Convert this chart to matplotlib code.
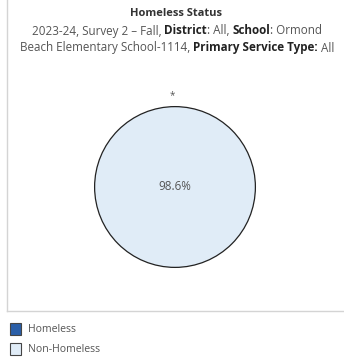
import matplotlib
matplotlib.use("Agg")
import matplotlib.pyplot as plt
from matplotlib.lines import Line2D
from matplotlib.patches import Rectangle, Circle

# ---- data ----
categories = ["Homeless", "Non-Homeless"]
values = [0.0, 98.6]          # Homeless value suppressed ("*") in the source
slice_labels = ["*", ""]
center_label = "98.6%"
colors = ["#2b5fa8", "#e0ecf7"]

title = "Homeless Status"
subtitle_lines = [
    [("2023-24, Survey 2 \u2013 Fall, ", False), ("District", True), (": All, ", False),
     ("School", True), (": Ormond", False)],
    [("Beach Elementary School-1114, ", False), ("Primary Service Type:", True), (" All", False)],
]

W, H = 344, 360
plt.rcParams['font.family'] = ['Open Sans', 'DejaVu Sans']
fig = plt.figure(figsize=(W / 100, H / 100), dpi=100)
fig.patch.set_facecolor("white")

def fx(x):
    return x / W

def fy(y):
    return 1 - y / H

TXT = "#555555"
FS = 8.4

# frame
fig.add_artist(Line2D([fx(6.5), fx(6.5)], [fy(0), fy(311)], color="#d4d4d4", lw=1))
fig.add_artist(Line2D([fx(6.5), fx(344)], [fy(311), fy(311)], color="#d4d4d4", lw=1))

# title
fig.text(fx(176), fy(14), title, ha="center", va="center", fontsize=8.0,
         fontweight="bold", color="#333333")

renderer = fig.canvas.get_renderer()
for i, parts in enumerate(subtitle_lines):
    y = fy(31 + 17 * i)
    texts = []
    for s, b in parts:
        t = fig.text(0, y, s, ha="left", va="center", fontsize=FS,
                     fontweight="bold" if b else "normal",
                     color="#222222" if b else TXT)
        texts.append(t)
    widths = [t.get_window_extent(renderer).width for t in texts]
    total = sum(widths)
    x = 177 - total / 2
    for t, w in zip(texts, widths):
        t.set_x(fx(x))
        x += w

# pie
cx, cy, r = 175, 187, 82
ax = fig.add_axes([fx(cx - r), fy(cy + r), 2 * r / W, 2 * r / H])
wedges, txts = ax.pie(values, colors=colors, startangle=90, counterclock=False,
                      labels=slice_labels, labeldistance=1.14,
                      wedgeprops=dict(edgecolor="none", linewidth=0),
                      textprops=dict(fontsize=7, color=TXT))
ax.add_patch(Circle((0, 0), 1, facecolor="none", edgecolor="#222222", linewidth=0.9))
ax.text(0, 0, center_label, ha="center", va="center", fontsize=FS, color=TXT)
ax.set_xlim(-1.02, 1.02)
ax.set_ylim(-1.02, 1.02)
ax.axis("off")

# legend
for i, (cat, col) in enumerate(zip(categories, colors)):
    y = 329 + 20 * i
    fig.add_artist(Rectangle((fx(9.5), fy(y + 6)), 11.5 / W, 12 / H, facecolor=col,
                             edgecolor="#444444", linewidth=0.8, transform=fig.transFigure))
    fig.text(fx(28), fy(y), cat, ha="left", va="center", fontsize=7.6, color=TXT)

fig.savefig("out.png", dpi=100, facecolor="white")
